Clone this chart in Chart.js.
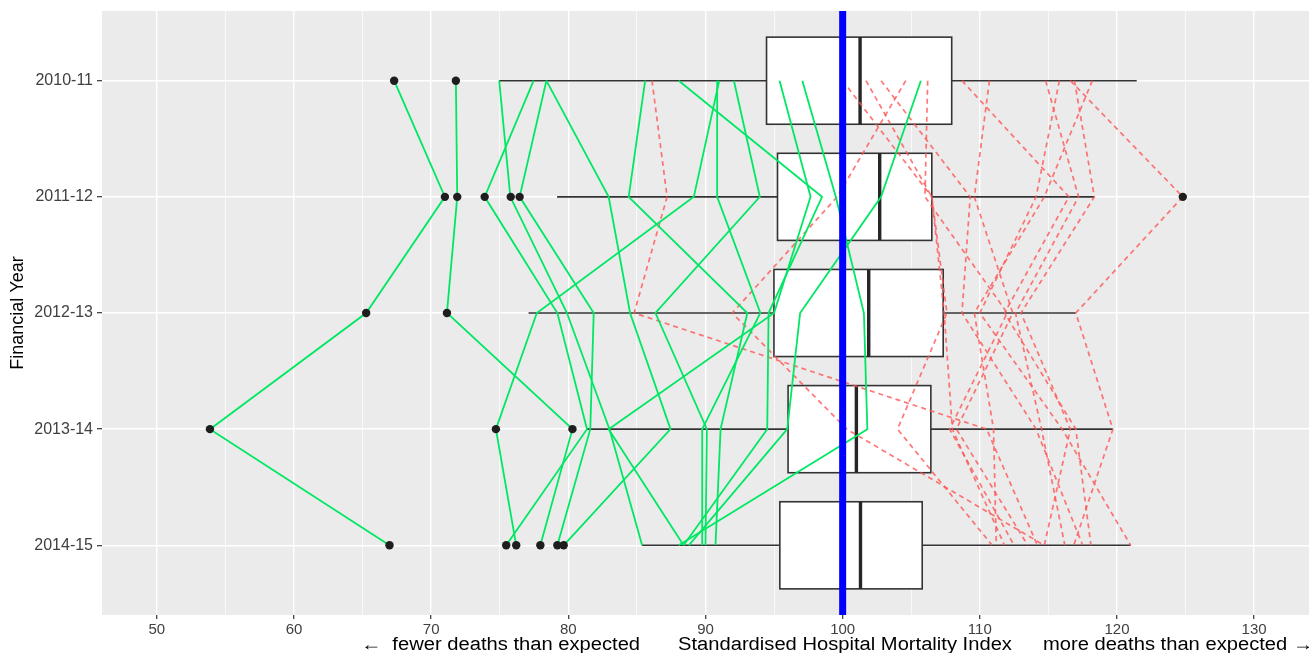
<!DOCTYPE html>
<html><head><meta charset="utf-8">
<script src="https://cdn.jsdelivr.net/npm/chart.js@4/dist/chart.umd.min.js"></script>
<style>html,body{margin:0;padding:0;background:#fff}#wrap{width:1316px;height:653px;position:relative}</style>
</head><body><div id="wrap"><canvas id="c"></canvas></div>
<script>
// ---- data ----
const years = ['2010-11','2011-12','2012-13','2013-14','2014-15'];
const xTickValues = [50,55,60,65,70,75,80,85,90,95,100,105,110,115,120,125,130];
const boxQ1 = [94.45, 95.25, 94.99, 96.02, 95.42];
const boxMedian = [101.27, 102.7, 101.9, 101.0, 101.3];
const boxQ3 = [107.95, 106.5, 107.33, 106.43, 105.8];
const whiskerLow = [74.95, 79.18, 77.1, 81.36, 85.38];
const whiskerHigh = [121.44, 118.35, 117.0, 119.7, 121.0];
const outliers = [
  [67.3, 71.8],
  [71.0, 71.9, 73.9, 75.8, 76.45, 124.8],
  [65.26, 71.15],
  [53.87, 74.72, 80.3],
  [66.96, 75.47, 76.2, 77.96, 79.2, 79.66]
];
// trusts with fewer deaths than expected (green), values per financial year
const lowTrusts = [
  [67.3, 71.0, 65.26, 53.87, 66.96],
  [71.8, 71.9, 71.15, 80.3, 77.96],
  [74.96, 75.77, 79.9, 83.0, 85.38],
  [77.47, 73.9, 79.2, 81.36, 75.47],
  [78.4, 76.45, 81.85, 81.6, 79.2],
  [78.4, 82.94, 84.5, 87.45, 79.66],
  [85.6, 84.4, 93.05, 91.1, 90.73],
  [88.05, 98.5, 94.6, 94.5, 88.4],
  [90.85, 90.85, 94.0, 89.76, 89.76],
  [91.0, 89.15, 77.7, 74.72, 76.2],
  [92.07, 93.96, 86.35, 90.1, 90.0],
  [95.4, 97.66, 95.0, 82.94, 88.4],
  [97.06, 99.5, 101.55, 101.8, 88.05],
  [105.7, 102.8, 96.9, 95.96, 88.78]
];
// trusts with more deaths than expected (red dashed)
const highTrusts = [
  [86.1, 87.2, 84.8, 110.5, 114.2],
  [104.6, 99.6, 91.95, 100.3, 114.7],
  [100.0, 106.5, 107.4, 108.0, 111.8],
  [101.7, 106.5, 107.6, 104.0, 110.9],
  [102.8, 109.3, 108.7, 114.1, 117.5],
  [106.2, 106.0, 112.0, 107.8, 112.5],
  [108.7, 116.5, 111.8, 117.0, 118.1],
  [110.7, 109.6, 112.4, 108.3, 113.5],
  [114.8, 117.2, 112.6, 114.5, 116.2],
  [115.8, 114.1, 110.0, 116.0, 121.0],
  [116.6, 124.8, 117.0, 119.7, 116.85],
  [116.9, 118.35, 113.0, 116.6, 114.7],
  [118.2, 114.7, 109.6, 111.0, 111.2]
];
const referenceValue = 100;
const xTitleParts = ['\u2190  fewer deaths than expected', 'Standardised Hospital Mortality Index', 'more deaths than expected \u2192'];
const yTitle = 'Financial Year';

// ---- styling ----
const FONT = '"Liberation Sans", Arial, sans-serif';
const GREEN = '#00E863';
const RED = 'rgba(255,85,85,0.8)';

const datasets = [];
datasets.push({
  label: 'ref', order: 0, showLine: true, borderColor: '#0000FF', borderWidth: 7,
  pointRadius: 0, data: [{x: referenceValue, y: -0.6}, {x: referenceValue, y: 4.6}]
});
datasets.push({
  label: 'outliers', order: 1, showLine: false, pointRadius: 4.2, pointBackgroundColor: '#1e1e1e',
  pointBorderWidth: 0,
  data: outliers.flatMap((arr, i) => arr.map(v => ({x: v, y: i})))
});
lowTrusts.forEach((t, k) => datasets.push({
  label: 'low' + k, order: 2, showLine: true, borderColor: GREEN, borderWidth: 1.8,
  pointRadius: 0, data: t.map((v, i) => ({x: v, y: i}))
}));
highTrusts.forEach((t, k) => datasets.push({
  label: 'high' + k, order: 3, showLine: true, borderColor: RED, borderWidth: 1.7,
  borderDash: [5, 4], pointRadius: 0, data: t.map((v, i) => ({x: v, y: i}))
}));

const panelPlugin = {
  id: 'panel',
  beforeDraw(chart) {
    const {ctx, chartArea: a} = chart;
    ctx.save();
    ctx.fillStyle = '#EBEBEB';
    ctx.fillRect(a.left, a.top, a.right - a.left, a.bottom - a.top);
    ctx.restore();
  },
  beforeDatasetsDraw(chart) {
    const {ctx, chartArea: a} = chart;
    const xs = chart.scales.x, ys = chart.scales.y;
    ctx.save();
    ctx.beginPath(); ctx.rect(a.left, a.top, a.right - a.left, a.bottom - a.top); ctx.clip();
    years.forEach((_, i) => {
      const yc = ys.getPixelForValue(i);
      const yt = ys.getPixelForValue(i - 0.375);
      const yb = ys.getPixelForValue(i + 0.375);
      const xl = xs.getPixelForValue(boxQ1[i]);
      const xm = xs.getPixelForValue(boxMedian[i]);
      const xr = xs.getPixelForValue(boxQ3[i]);
      ctx.strokeStyle = '#333333';
      ctx.lineWidth = 1.6;
      ctx.beginPath();
      ctx.moveTo(xs.getPixelForValue(whiskerLow[i]), yc); ctx.lineTo(xl, yc);
      ctx.moveTo(xr, yc); ctx.lineTo(xs.getPixelForValue(whiskerHigh[i]), yc);
      ctx.stroke();
      ctx.fillStyle = '#FFFFFF';
      ctx.fillRect(xl, yt, xr - xl, yb - yt);
      ctx.strokeRect(xl, yt, xr - xl, yb - yt);
      ctx.lineWidth = 3.4;
      ctx.strokeStyle = '#262626';
      ctx.beginPath(); ctx.moveTo(xm, yt); ctx.lineTo(xm, yb); ctx.stroke();
    });
    ctx.restore();
  },
  afterDraw(chart) {
    const ctx = chart.ctx;
    const parts = [[xTitleParts[0], 361, 'left'], [xTitleParts[1], 678, 'left'], [xTitleParts[2], 1313, 'right']];
    ctx.save();
    ctx.font = '18px ' + FONT;
    ctx.fillStyle = '#000';
    ctx.textBaseline = 'middle';
    const sx = 1.12;
    parts.forEach(([txt, px, align]) => {
      ctx.save();
      ctx.translate(px, 645);
      ctx.scale(sx, 1);
      ctx.textAlign = align;
      ctx.fillText(txt, 0, 0);
      ctx.restore();
    });
    ctx.restore();
  }
};

new Chart(document.getElementById('c'), {
  type: 'scatter',
  data: {datasets},
  options: {
    responsive: true, maintainAspectRatio: false, animation: false,
    layout: {padding: {top: 11, right: 7, left: 0, bottom: 0}},
    plugins: {legend: {display: false}, tooltip: {enabled: false}},
    elements: {line: {tension: 0}},
    scales: {
      x: {
        type: 'linear', position: 'bottom', min: 46, max: 134,
        afterBuildTicks: s => { s.ticks = xTickValues.map(v => ({value: v})); },
        afterFit: s => { s.height = 38; s.paddingLeft = 0; s.paddingRight = 0; },
        ticks: {
          autoSkip: false, maxRotation: 0, padding: 2,
          callback: v => (v % 10 === 0 ? String(v) : ''),
          font: {size: 15, family: FONT}, color: '#404040'
        },
        grid: {
          color: '#FFFFFF',
          lineWidth: c => (c.tick && c.tick.value % 10 === 0 ? 1.4 : 0.7),
          tickLength: 4, tickWidth: 1.2,
          tickColor: c => (c.tick && c.tick.value % 10 === 0 ? '#333333' : 'rgba(0,0,0,0)')
        },
        border: {display: false}
      },
      y: {
        type: 'linear', min: -0.6, max: 4.6, reverse: true,
        afterBuildTicks: s => { s.ticks = years.map((_, i) => ({value: i})); },
        afterFit: s => { s.width = 102; s.paddingTop = 0; s.paddingBottom = 0; },
        ticks: {
          autoSkip: false, padding: 4,
          callback: v => (years[v] !== undefined ? years[v] : ''),
          font: {size: 16, family: FONT}, color: '#404040'
        },
        grid: {color: '#FFFFFF', lineWidth: 1.4, tickLength: 5, tickWidth: 1.2, tickColor: '#333333'},
        border: {display: false},
        title: {display: true, text: yTitle, color: '#000', font: {size: 18, family: FONT}, padding: {top: 7, bottom: 0}}
      }
    }
  },
  plugins: [panelPlugin]
});
</script>
</body></html>
